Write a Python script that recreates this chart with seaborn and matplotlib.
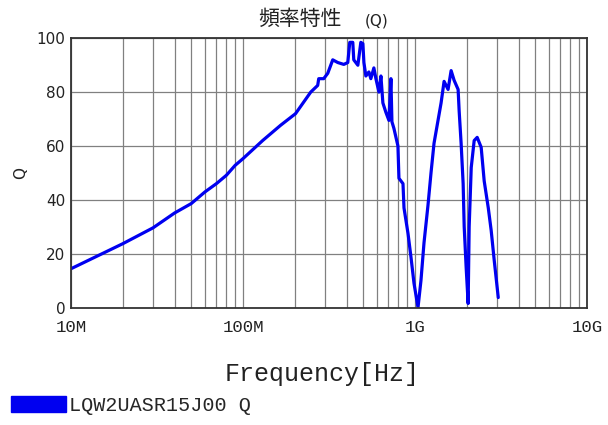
import matplotlib
matplotlib.use("Agg")
import matplotlib.pyplot as plt
from matplotlib.patches import Patch
from matplotlib.ticker import LogLocator, FixedLocator, NullFormatter
from matplotlib.font_manager import FontProperties
import numpy as np
import pandas as pd
import seaborn as sns

# ---- data ----
freq_mhz = [10, 20, 30, 40, 50, 60, 70, 80, 90, 100, 130, 165.5, 202, 247.5,
            271.8, 275.6, 294.6, 311, 332.5, 355.6, 385.5, 406.6, 417.6, 434.8,
            440.6, 465.4, 484.2, 497.7, 504.6, 518, 539.5, 553.7, 576.6, 592.6,
            617, 633.6, 650.5, 677.3, 705.3, 724.4, 734.3, 754.3, 795.7, 806.6,
            851.5, 863, 910.6, 948, 986.6, 1041, 1083, 1128, 1190, 1239, 1290,
            1361, 1418, 1476, 1557, 1622, 1688, 1781, 1806, 1854, 1905, 1932,
            1983, 2037, 2065, 2123, 2208, 2299, 2425, 2525, 2667, 2773, 2888, 3048]
q_values = [14.4, 23.7, 29.6, 35.1, 38.6, 42.9, 46.0, 49.1, 52.8, 55.3, 62.0, 67.7, 72.0, 80.0,
            82.5, 85.0, 85.0, 87.0, 92.0, 91.0, 90.3, 91.0, 98.5, 98.5,
            92.0, 90.0, 98.5, 98.0, 91.0, 86.0, 87.5, 85.0, 89.0, 85.0,
            80.0, 86.0, 76.0, 72.5, 69.5, 85.0, 69.0, 66.5, 60.0, 48.0,
            46.0, 37.0, 27.5, 18.6, 9.0, 0.0, 10.0, 24.0, 38.0, 50.0, 61.0,
            69.5, 76.0, 84.0, 81.0, 88.0, 84.4, 81.0, 73.0, 61.0, 46.0, 30.0,
            15.0, 1.5, 30.0, 52.0, 62.0, 63.2, 59.5, 47.0, 37.0, 28.6, 17.5, 3.7]
x_ticks = [1e7, 1e8, 1e9, 1e10]
x_tick_labels = ["10M", "100M", "1G", "10G"]
y_ticks = [0, 20, 40, 60, 80, 100]
series_label = "LQW2UASR15J00 Q"
title_main = "頻率特性"
title_sub = "(Q)"

df = pd.DataFrame({"freq": np.array(freq_mhz) * 1e6, "Q": q_values})

sns.set_style("white")
plt.rcParams["font.family"] = ["DejaVu Sans", "Noto Sans CJK JP"]

W, H = 608, 425
fig = plt.figure(figsize=(W / 100, H / 100), dpi=100)
ax = fig.add_axes([71 / W, 1 - 307.5 / H, (587 - 71) / W, (307.5 - 38.3) / H])

line_color = "#0000f0"
sns.lineplot(data=df, x="freq", y="Q", ax=ax, color=line_color, lw=2.3,
             estimator=None, sort=False, legend=False)

ax.set_xscale("log")
ax.set_xlim(1e7, 1e10)
ax.set_ylim(0, 100)

ax.xaxis.set_major_locator(FixedLocator(x_ticks))
ax.set_xticklabels(x_tick_labels)
ax.xaxis.set_minor_locator(LogLocator(base=10, subs=np.arange(2, 10)))
ax.xaxis.set_minor_formatter(NullFormatter())
ax.set_yticks(y_ticks)

grid_c = "#808080"
ax.grid(True, which="both", axis="x", color=grid_c, lw=0.9)
ax.grid(True, which="major", axis="y", color=grid_c, lw=0.9)
ax.set_axisbelow(True)

for s in ax.spines.values():
    s.set_color("#333333")
    s.set_linewidth(1.3)

mono = "Liberation Mono"
ax.tick_params(axis="both", which="both", length=0)
ax.tick_params(axis="x", pad=9)
ax.tick_params(axis="y", pad=4)
for lab in ax.get_xticklabels():
    lab.set_fontfamily(mono)
    lab.set_fontsize(12.5)
    lab.set_color("#222222")
for lab in ax.get_yticklabels():
    lab.set_fontfamily("DejaVu Sans")
    lab.set_fontsize(11)
    lab.set_color("#222222")

ax.set_xlabel("Frequency[Hz]", fontfamily=mono, fontsize=18, color="#222222")
ax.xaxis.label.set_va("center")
ax.xaxis.set_label_coords((321.7 - 71) / 516, (307.5 - 374) / 269.2)
ax.set_ylabel("Q", fontsize=11, color="#222222")
ax.yaxis.label.set_va("center")
ax.yaxis.set_label_coords((21 - 71) / 516, 0.5)

fig.text(299.5 / W, 1 - 18.5 / H, title_main, family=["Noto Sans CJK JP", "DejaVu Sans"],
         fontsize=15, ha="center", va="center", color="#222222")
fig.text(376.5 / W, 1 - 21.5 / H, title_sub, family=["DejaVu Sans"],
         fontsize=11, ha="center", va="center", color="#222222")

handle = Patch(facecolor=line_color, edgecolor=line_color, label=series_label)
fig.legend(handles=[handle], loc="upper left", bbox_to_anchor=(11 / W, 1 - 396 / H),
           frameon=False, borderpad=0, borderaxespad=0, handlelength=2.73,
           handleheight=0.85, handletextpad=0.15,
           prop=FontProperties(family=mono, size=14.5))

fig.savefig("out.png", dpi=100)
